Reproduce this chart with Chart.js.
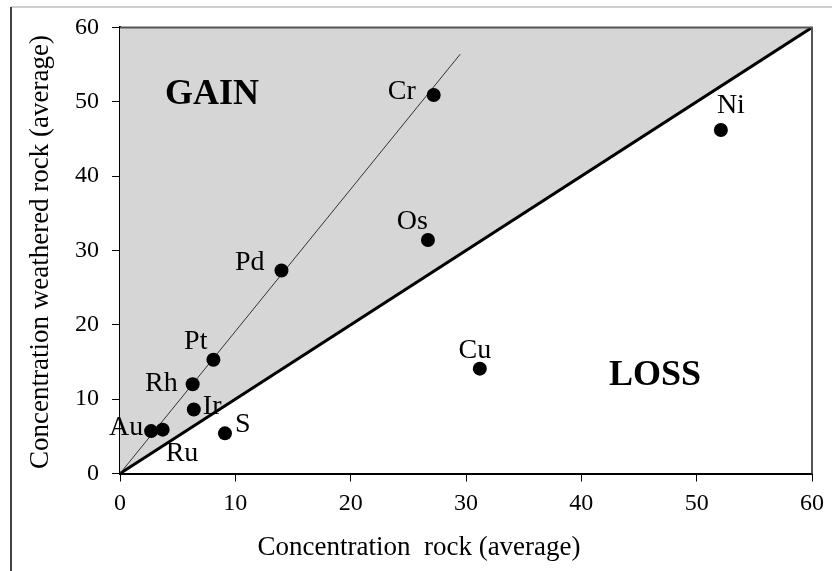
<!DOCTYPE html>
<html>
<head>
<meta charset="utf-8">
<script src="https://cdn.jsdelivr.net/npm/chart.js@4.4.1/dist/chart.umd.min.js"></script>
<style>
  html, body { margin: 0; padding: 0; background: #fff; }
  #wrap { width: 832px; height: 571px; position: relative; }
</style>
</head>
<body>
<div id="wrap"><canvas id="c"></canvas></div>
<script>
// Element averages: rock vs. weathered rock
const elements     = ['Cr', 'Ni', 'Os', 'Cu', 'Pd', 'Pt', 'Rh', 'Ir', 'Au', 'Ru', 'S'];
const rockAvg      = [27.2, 52.1, 26.7, 31.2, 14.0, 8.1, 6.3, 6.4, 2.7, 3.7, 9.1];
const weatheredAvg = [50.9, 46.2, 31.4, 14.1, 27.3, 15.3, 12.0, 8.6, 5.7, 5.9, 5.4];

// 1:1 reference line and PGE trend line
const equalX = [0, 60];
const equalY = [0, 60];
const trendX = [0, 29.5];
const trendY = [0, 56.4];

const axisTicks = [0, 10, 20, 30, 40, 50, 60];

// label placement around each marker (px offset from the dot, text alignment)
const labelPlace = {
  Cr: [-18, 4, 'right'],  Ni: [-4, -17, 'left'],  Os: [0, -11, 'right'],
  Cu: [-5, -11, 'center'], Pd: [-17, -1, 'right'], Pt: [-6, -11, 'right'],
  Rh: [-15, 7, 'right'],  Ir: [9, 4, 'left'],     Au: [-8, 4, 'right'],
  Ru: [3, 31, 'left'],    S: [10, -1, 'left']
};

const SERIF = '"Liberation Serif", "Times New Roman", serif';

const toXY = (xs, ys) => xs.map((x, i) => ({ x, y: ys[i] }));

const decorations = {
  id: 'decorations',
  beforeDraw(chart) {
    const ctx = chart.ctx;
    ctx.save();
    ctx.fillStyle = '#fff';
    ctx.fillRect(0, 0, chart.width, chart.height);
    // outer frame
    ctx.strokeStyle = '#cfcfcf';
    ctx.lineWidth = 2;
    ctx.beginPath(); ctx.moveTo(11, 7); ctx.lineTo(chart.width, 7); ctx.stroke();
    ctx.strokeStyle = '#444';
    ctx.lineWidth = 2;
    ctx.beginPath(); ctx.moveTo(11, 7); ctx.lineTo(11, chart.height); ctx.stroke();
    ctx.restore();
  },
  afterDatasetsDraw(chart) {
    const ctx = chart.ctx;
    const a = chart.chartArea;
    const xs = chart.scales.x, ys = chart.scales.y;
    ctx.save();
    // top and right edges of the plot box
    ctx.strokeStyle = '#555';
    ctx.lineWidth = 2;
    ctx.beginPath();
    ctx.moveTo(a.left, a.top); ctx.lineTo(a.right, a.top); ctx.lineTo(a.right, a.bottom);
    ctx.stroke();

    // element labels
    const meta = chart.getDatasetMeta(0);
    ctx.fillStyle = '#000';
    ctx.font = '28px ' + SERIF;
    ctx.textBaseline = 'alphabetic';
    meta.data.forEach((pt, i) => {
      const name = elements[i];
      const p = labelPlace[name];
      ctx.textAlign = p[2];
      ctx.fillText(name, pt.x + p[0], pt.y + p[1]);
    });

    // region labels
    ctx.font = 'bold 36px ' + SERIF;
    ctx.textAlign = 'left';
    ctx.fillText('GAIN', xs.getPixelForValue(3.9), ys.getPixelForValue(49.7));
    ctx.fillText('LOSS', xs.getPixelForValue(42.4), ys.getPixelForValue(11.9));

    // axis titles
    ctx.font = '27px ' + SERIF;
    ctx.textAlign = 'center';
    ctx.fillText('Concentration  rock (average)', 419, 555);
    ctx.translate(48, 252);
    ctx.rotate(-Math.PI / 2);
    ctx.fillText('Concentration weathered rock (average)', 0, 0);
    ctx.restore();
  }
};

const axisCommon = {
  type: 'linear',
  min: 0,
  max: 60,
  afterBuildTicks(scale) { scale.ticks = axisTicks.map(v => ({ value: v })); },
  ticks: { color: '#000', font: { family: SERIF, size: 24 } },
  grid: { drawOnChartArea: false, drawTicks: true, tickLength: 8, color: '#000', lineWidth: 1 },
  border: { display: true, color: '#000', width: 2 },
  title: { display: false }
};

new Chart(document.getElementById('c'), {
  data: {
    datasets: [
      {
        type: 'scatter',
        data: toXY(rockAvg, weatheredAvg),
        pointRadius: 7,
        pointHoverRadius: 7,
        backgroundColor: '#000',
        borderWidth: 0,
        order: 0
      },
      {
        type: 'line',
        data: toXY(trendX, trendY),
        borderColor: '#333',
        borderWidth: 1,
        pointRadius: 0,
        fill: false,
        order: 1
      },
      {
        type: 'line',
        data: toXY(equalX, equalY),
        borderColor: '#000',
        borderWidth: 3,
        backgroundColor: '#d6d6d6',
        pointRadius: 0,
        fill: 'end',
        order: 2
      }
    ]
  },
  options: {
    responsive: true,
    maintainAspectRatio: false,
    animation: false,
    events: [],
    layout: { padding: { top: 23, right: 20, left: 0, bottom: 0 } },
    plugins: { legend: { display: false }, tooltip: { enabled: false } },
    scales: {
      x: Object.assign({}, axisCommon, {
        position: 'bottom',
        ticks: Object.assign({}, axisCommon.ticks, { padding: 8, maxRotation: 0 }),
        afterFit(scale) { scale.height = 97.5; }
      }),
      y: Object.assign({}, axisCommon, {
        position: 'left',
        ticks: Object.assign({}, axisCommon.ticks, { padding: 13 }),
        afterFit(scale) { scale.width = 120; }
      })
    }
  },
  plugins: [decorations]
});
</script>
</body>
</html>
